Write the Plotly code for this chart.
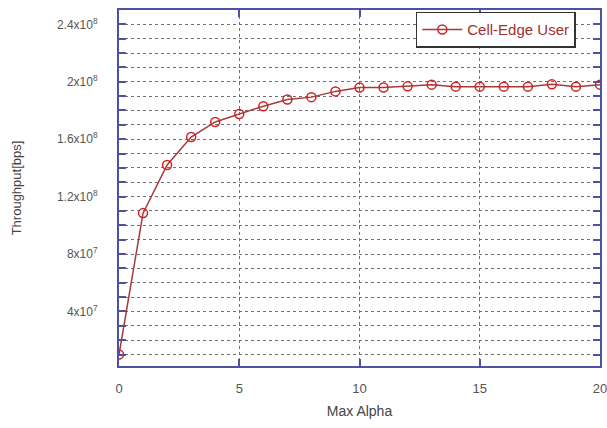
import plotly.graph_objects as go

max_alpha = list(range(0, 21))
throughput = [1.0e7, 1.085e8, 1.42e8, 1.615e8, 1.72e8, 1.775e8, 1.83e8, 1.877e8,
              1.893e8, 1.933e8, 1.96e8, 1.96e8, 1.968e8, 1.98e8, 1.966e8, 1.966e8,
              1.966e8, 1.966e8, 1.982e8, 1.966e8, 1.98e8]
series_name = "Cell-Edge User"

y_tick_vals = [4e7, 8e7, 1.2e8, 1.6e8, 2e8, 2.4e8]
y_tick_text = ["4x10<sup>7</sup>", "8x10<sup>7</sup>", "1.2x10<sup>8</sup>",
               "1.6x10<sup>8</sup>", "2x10<sup>8</sup>", "2.4x10<sup>8</sup>"]
x_tick_vals = [0, 5, 10, 15, 20]

axis_blue = "#4f4fa3"
grid_col = "#707070"
font_fam = "Liberation Sans, Arial, sans-serif"

fig = go.Figure()
fig.add_trace(go.Scatter(
    x=max_alpha, y=throughput, name=series_name, mode="lines+markers",
    line=dict(color="#a83a3a", width=1.5),
    marker=dict(symbol="circle-open", size=9, color="#d42020", line=dict(width=1.5, color="#d42020")),
))

fig.update_layout(
    width=607, height=428,
    margin=dict(l=119, r=7, t=10, b=62),
    paper_bgcolor="white", plot_bgcolor="white",
    font=dict(family=font_fam, size=12, color="#555555"),
    showlegend=True,
    legend=dict(x=0.617, y=0.995, xanchor="left", yanchor="top",
                bordercolor="#333333", borderwidth=1.5, bgcolor="white",
                font=dict(color="#a03030", size=15, family=font_fam),
                itemwidth=40),
)

fig.update_xaxes(
    range=[0, 20], tickmode="array", tickvals=x_tick_vals,
    showline=True, linecolor=axis_blue, linewidth=2, mirror="ticks",
    ticks="inside", ticklen=7, tickcolor=axis_blue, tickwidth=1.5,
    showgrid=True, gridcolor=grid_col, griddash="dot", gridwidth=1,
    zeroline=False, ticklabelstandoff=9, automargin=False,
    ticklabeloverflow="allow",
    tickfont=dict(size=13, color="#555555"),
    title=dict(text="Max Alpha", font=dict(size=14, color="#444444"), standoff=12),
)
fig.update_yaxes(
    range=[2e6, 2.5e8], tickmode="array", tickvals=y_tick_vals, ticktext=y_tick_text,
    showline=True, linecolor=axis_blue, linewidth=2, mirror="ticks",
    ticks="inside", ticklen=7, tickcolor=axis_blue, tickwidth=1.5,
    showgrid=True, gridcolor=grid_col, griddash="dot", gridwidth=1,
    zeroline=False, ticklabelstandoff=17, automargin=False,
    tickfont=dict(size=12, color="#555555"),
    minor=dict(tickmode="linear", tick0=0, dtick=1e7, ticks="inside", ticklen=7,
               tickcolor=axis_blue, tickwidth=1.5, showgrid=True, gridcolor=grid_col,
               griddash="dot", gridwidth=1),
    title=dict(text="Throughput[bps]", font=dict(size=13, color="#444444"), standoff=32),
)

fig.write_html("out.html", config={"displayModeBar": False},
               post_script="document.body.style.margin='0px';")
